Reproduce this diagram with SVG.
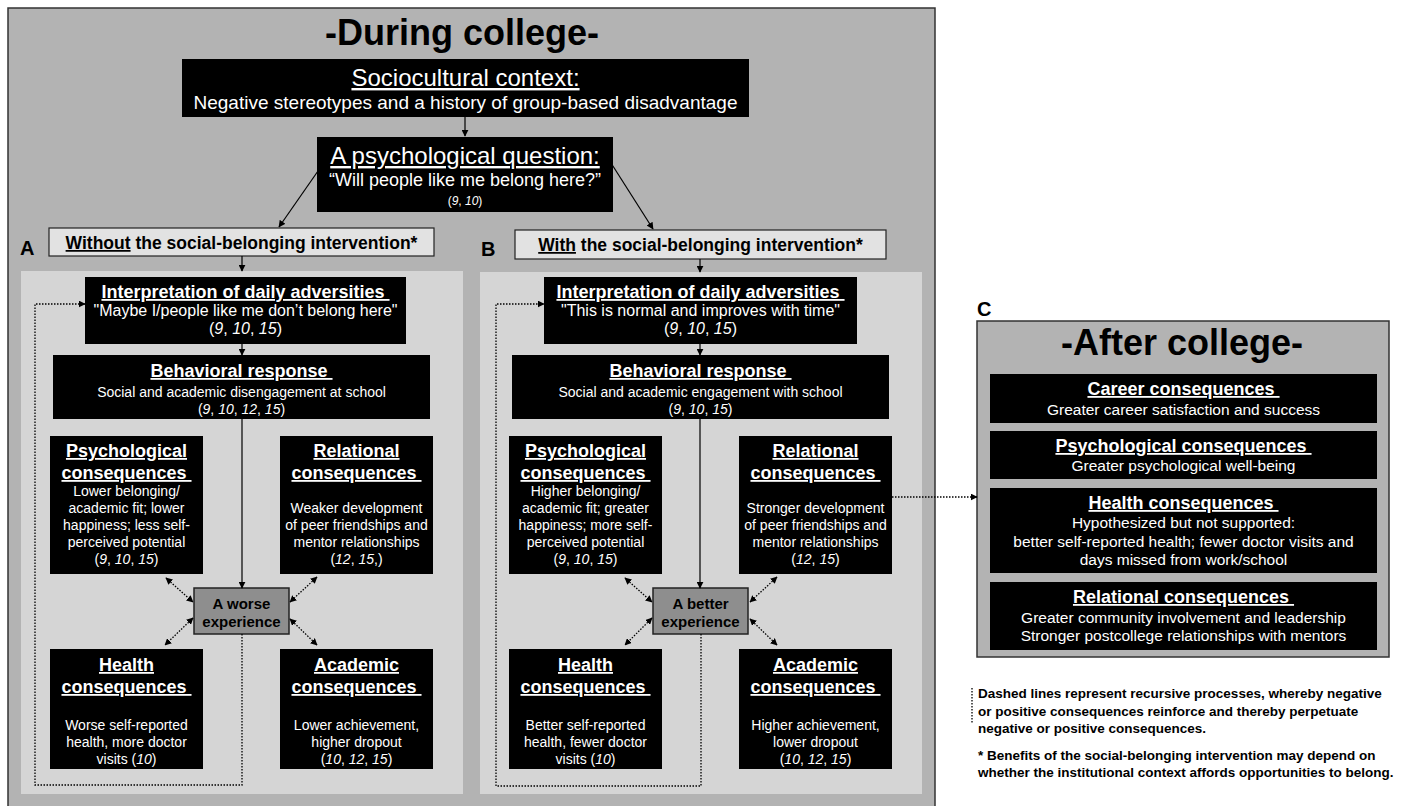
<svg xmlns="http://www.w3.org/2000/svg" width="1405" height="806" viewBox="0 0 1405 806">
<style>
text{font-family:"Liberation Sans",Arial,Helvetica,sans-serif}
.blk{fill:#000}
.h{font-weight:bold;font-size:18px;fill:#fff;text-anchor:middle;text-decoration:underline}
.q{font-size:16px;fill:#fff;text-anchor:middle}
.b{font-size:14px;fill:#fff;text-anchor:middle}
.cb{font-size:15.5px;fill:#fff;text-anchor:middle}
.i{font-style:italic}
.lbl{font-weight:bold;font-size:20px;fill:#000}
.ln{stroke:#000;stroke-width:1.2;fill:none}
.dot{stroke:#000;stroke-width:1.3;fill:none;stroke-dasharray:1.5 1.5}
.note{font-weight:bold;font-size:13.5px;fill:#000}
</style>
<defs>
<marker id="ah" viewBox="0 0 10 10" refX="9" refY="5" markerWidth="7" markerHeight="7" markerUnits="userSpaceOnUse" orient="auto-start-reverse"><path d="M0,0 L10,5 L0,10 z" fill="#000"/></marker>
</defs>
<rect width="1405" height="806" fill="#fff"/>

<g id="during-college">
<rect x="8" y="8" width="927" height="805" fill="#b3b3b3" stroke="#333" stroke-width="1.5"/>
<text x="462" y="45" font-size="36" font-weight="bold" text-anchor="middle" fill="#000">-During college-</text>
</g>

<g id="panelA-bg"><rect x="21" y="271" width="442" height="523" fill="#d5d5d5"/></g>
<g id="panelB-bg"><rect x="480" y="272" width="442" height="522" fill="#d5d5d5"/></g>

<g id="sociocultural">
<rect class="blk" x="182" y="59" width="567" height="58"/>
<text x="465.5" y="86" font-size="24" fill="#fff" text-anchor="middle" text-decoration="underline">Sociocultural context:</text>
<text x="465.5" y="109" font-size="19" fill="#fff" text-anchor="middle">Negative stereotypes and a history of group-based disadvantage</text>
</g>

<g id="psych-question">
<rect class="blk" x="317" y="137" width="296" height="75"/>
<text x="465" y="164" font-size="24" fill="#fff" text-anchor="middle" text-decoration="underline">A psychological question:</text>
<text x="465" y="186" font-size="18" fill="#fff" text-anchor="middle">“Will people like me belong here?”</text>
<text x="465" y="205" font-size="12" fill="#fff" text-anchor="middle">(<tspan class="i">9</tspan>, <tspan class="i">10</tspan>)</text>
</g>

<g id="labelA">
<text class="lbl" x="20" y="255">A</text>
<rect x="49" y="228" width="385" height="28" fill="#e2e2e2" stroke="#222" stroke-width="1.2"/>
<text x="241.5" y="249" font-size="17.5" font-weight="bold" text-anchor="middle" fill="#000"><tspan text-decoration="underline">Without</tspan> the social-belonging intervention*</text>
</g>

<g id="labelB">
<text class="lbl" x="481" y="256">B</text>
<rect x="515" y="230" width="371" height="29" fill="#e2e2e2" stroke="#222" stroke-width="1.2"/>
<text x="700.5" y="251" font-size="17.5" font-weight="bold" text-anchor="middle" fill="#000"><tspan text-decoration="underline">With</tspan> the social-belonging intervention*</text>
</g>

<g id="A-interpretation">
<rect class="blk" x="85" y="277" width="321" height="67"/>
<text class="h" x="245.5" y="298">Interpretation of daily adversities&#160;</text>
<text class="q" x="245.5" y="316">"Maybe I/people like me don’t belong here"</text>
<text class="q" x="245.5" y="334">(<tspan class="i">9</tspan>, <tspan class="i">10</tspan>, <tspan class="i">15</tspan>)</text>
</g>
<g id="A-behavioral">
<rect class="blk" x="53" y="355" width="377" height="64"/>
<text class="h" x="241.5" y="377">Behavioral response&#160;</text>
<text class="b" x="241.5" y="397">Social and academic disengagement at school</text>
<text class="b" x="241.5" y="414">(<tspan class="i">9</tspan>, <tspan class="i">10</tspan>, <tspan class="i">12</tspan>, <tspan class="i">15</tspan>)</text>
</g>
<g id="A-psychological">
<rect class="blk" x="50" y="436" width="153" height="138"/>
<text class="h" x="126.5" y="457">Psychological</text>
<text class="h" x="126.5" y="479">consequences&#160;</text>
<text class="b" x="126.5" y="496">Lower belonging/</text>
<text class="b" x="126.5" y="513">academic fit; lower</text>
<text class="b" x="126.5" y="530">happiness; less self-</text>
<text class="b" x="126.5" y="547">perceived potential</text>
<text class="b" x="126.5" y="564">(<tspan class="i">9</tspan>, <tspan class="i">10</tspan>, <tspan class="i">15</tspan>)</text>
</g>
<g id="A-relational">
<rect class="blk" x="280" y="436" width="153" height="138"/>
<text class="h" x="356.5" y="457">Relational</text>
<text class="h" x="356.5" y="479">consequences&#160;</text>
<text class="b" x="356.5" y="513">Weaker development</text>
<text class="b" x="356.5" y="530">of peer friendships and</text>
<text class="b" x="356.5" y="547">mentor relationships</text>
<text class="b" x="356.5" y="564">(<tspan class="i">12</tspan>, <tspan class="i">15</tspan>,)</text>
</g>
<g id="A-experience">
<rect x="194" y="588" width="95" height="46" fill="#8e8e8e" stroke="#222" stroke-width="1.5"/>
<text x="241.5" y="609" font-size="15" font-weight="bold" text-anchor="middle" fill="#000">A worse</text>
<text x="241.5" y="627" font-size="15" font-weight="bold" text-anchor="middle" fill="#000">experience</text>
</g>
<g id="A-health">
<rect class="blk" x="50" y="649" width="153" height="120"/>
<text class="h" x="126.5" y="671">Health</text>
<text class="h" x="126.5" y="693">consequences&#160;</text>
<text class="b" x="126.5" y="730">Worse self-reported</text>
<text class="b" x="126.5" y="747">health, more doctor</text>
<text class="b" x="126.5" y="764">visits (<tspan class="i">10</tspan>)</text>
</g>
<g id="A-academic">
<rect class="blk" x="280" y="649" width="153" height="120"/>
<text class="h" x="356.5" y="671">Academic</text>
<text class="h" x="356.5" y="693">consequences&#160;</text>
<text class="b" x="356.5" y="730">Lower achievement,</text>
<text class="b" x="356.5" y="747">higher dropout</text>
<text class="b" x="356.5" y="764">(<tspan class="i">10</tspan>, <tspan class="i">12</tspan>, <tspan class="i">15</tspan>)</text>
</g>

<g id="B-interpretation">
<rect class="blk" x="544" y="277" width="313" height="67"/>
<text class="h" x="700.5" y="298">Interpretation of daily adversities&#160;</text>
<text class="q" x="700.5" y="316">"This is normal and improves with time"</text>
<text class="q" x="700.5" y="334">(<tspan class="i">9</tspan>, <tspan class="i">10</tspan>, <tspan class="i">15</tspan>)</text>
</g>
<g id="B-behavioral">
<rect class="blk" x="512" y="355" width="377" height="64"/>
<text class="h" x="700.5" y="377">Behavioral response&#160;</text>
<text class="b" x="700.5" y="397">Social and academic engagement with school</text>
<text class="b" x="700.5" y="414">(<tspan class="i">9</tspan>, <tspan class="i">10</tspan>, <tspan class="i">15</tspan>)</text>
</g>
<g id="B-psychological">
<rect class="blk" x="509" y="436" width="153" height="138"/>
<text class="h" x="585.5" y="457">Psychological</text>
<text class="h" x="585.5" y="479">consequences&#160;</text>
<text class="b" x="585.5" y="496">Higher belonging/</text>
<text class="b" x="585.5" y="513">academic fit; greater</text>
<text class="b" x="585.5" y="530">happiness; more self-</text>
<text class="b" x="585.5" y="547">perceived potential</text>
<text class="b" x="585.5" y="564">(<tspan class="i">9</tspan>, <tspan class="i">10</tspan>, <tspan class="i">15</tspan>)</text>
</g>
<g id="B-relational">
<rect class="blk" x="739" y="436" width="153" height="138"/>
<text class="h" x="815.5" y="457">Relational</text>
<text class="h" x="815.5" y="479">consequences&#160;</text>
<text class="b" x="815.5" y="513">Stronger development</text>
<text class="b" x="815.5" y="530">of peer friendships and</text>
<text class="b" x="815.5" y="547">mentor relationships</text>
<text class="b" x="815.5" y="564">(<tspan class="i">12</tspan>, <tspan class="i">15</tspan>)</text>
</g>
<g id="B-experience">
<rect x="653" y="588" width="95" height="46" fill="#8e8e8e" stroke="#222" stroke-width="1.5"/>
<text x="700.5" y="609" font-size="15" font-weight="bold" text-anchor="middle" fill="#000">A better</text>
<text x="700.5" y="627" font-size="15" font-weight="bold" text-anchor="middle" fill="#000">experience</text>
</g>
<g id="B-health">
<rect class="blk" x="509" y="649" width="153" height="120"/>
<text class="h" x="585.5" y="671">Health</text>
<text class="h" x="585.5" y="693">consequences&#160;</text>
<text class="b" x="585.5" y="730">Better self-reported</text>
<text class="b" x="585.5" y="747">health, fewer doctor</text>
<text class="b" x="585.5" y="764">visits (<tspan class="i">10</tspan>)</text>
</g>
<g id="B-academic">
<rect class="blk" x="739" y="649" width="153" height="120"/>
<text class="h" x="815.5" y="671">Academic</text>
<text class="h" x="815.5" y="693">consequences&#160;</text>
<text class="b" x="815.5" y="730">Higher achievement,</text>
<text class="b" x="815.5" y="747">lower dropout</text>
<text class="b" x="815.5" y="764">(<tspan class="i">10</tspan>, <tspan class="i">12</tspan>, <tspan class="i">15</tspan>)</text>
</g>

<g id="after-college">
<text class="lbl" x="977" y="316">C</text>
<rect x="977" y="321" width="412" height="336" fill="#b3b3b3" stroke="#333" stroke-width="1.5"/>
<text x="1182" y="355" font-size="36" font-weight="bold" text-anchor="middle" fill="#000">-After college-</text>
</g>
<g id="C-career">
<rect class="blk" x="990" y="374" width="387" height="49"/>
<text class="h" x="1183.5" y="395">Career consequences&#160;</text>
<text class="cb" x="1183.5" y="415">Greater career satisfaction and success</text>
</g>
<g id="C-psychological">
<rect class="blk" x="990" y="431" width="387" height="48"/>
<text class="h" x="1183.5" y="452">Psychological consequences&#160;</text>
<text class="cb" x="1183.5" y="471">Greater psychological well-being</text>
</g>
<g id="C-health">
<rect class="blk" x="990" y="488" width="387" height="85"/>
<text class="h" x="1183.5" y="509">Health consequences&#160;</text>
<text class="cb" x="1183.5" y="528">Hypothesized but not supported:</text>
<text class="cb" x="1183.5" y="547">better self-reported health; fewer doctor visits and</text>
<text class="cb" x="1183.5" y="565">days missed from work/school</text>
</g>
<g id="C-relational">
<rect class="blk" x="990" y="582" width="387" height="68"/>
<text class="h" x="1183.5" y="603">Relational consequences&#160;</text>
<text class="cb" x="1183.5" y="623">Greater community involvement and leadership</text>
<text class="cb" x="1183.5" y="641">Stronger postcollege relationships with mentors</text>
</g>

<g id="notes">
<line class="dot" x1="972" y1="688" x2="972" y2="723"/>
<text class="note" x="978" y="698">Dashed lines represent recursive processes, whereby negative</text>
<text class="note" x="978" y="716">or positive consequences reinforce and thereby perpetuate</text>
<text class="note" x="978" y="733">negative or positive consequences.</text>
<text class="note" x="978" y="760">* Benefits of the social-belonging intervention may depend on</text>
<text class="note" x="978" y="777">whether the institutional context affords opportunities to belong.</text>
</g>

<g id="connectors">
<line class="ln" x1="465" y1="117" x2="465" y2="136" marker-end="url(#ah)"/>
<line class="ln" x1="318" y1="171" x2="279" y2="227" marker-end="url(#ah)"/>
<line class="ln" x1="611" y1="163" x2="653" y2="229" marker-end="url(#ah)"/>
<line class="ln" x1="242" y1="256" x2="242" y2="271" marker-end="url(#ah)"/>
<line class="ln" x1="700" y1="259" x2="700" y2="272" marker-end="url(#ah)"/>
<line class="ln" x1="242" y1="344" x2="242" y2="355" marker-end="url(#ah)"/>
<line class="ln" x1="700" y1="344" x2="700" y2="355" marker-end="url(#ah)"/>
<line class="ln" x1="242" y1="419" x2="242" y2="588" marker-end="url(#ah)"/>
<line class="ln" x1="700" y1="419" x2="700" y2="588" marker-end="url(#ah)"/>
<line class="dot" x1="166" y1="578" x2="193" y2="602" marker-start="url(#ah)" marker-end="url(#ah)"/>
<line class="dot" x1="317" y1="577" x2="290" y2="602" marker-start="url(#ah)" marker-end="url(#ah)"/>
<line class="dot" x1="193" y1="618" x2="165" y2="645" marker-start="url(#ah)" marker-end="url(#ah)"/>
<line class="dot" x1="290" y1="619" x2="317" y2="645" marker-start="url(#ah)" marker-end="url(#ah)"/>
<line class="dot" x1="625" y1="578" x2="652" y2="602" marker-start="url(#ah)" marker-end="url(#ah)"/>
<line class="dot" x1="777" y1="577" x2="750" y2="602" marker-start="url(#ah)" marker-end="url(#ah)"/>
<line class="dot" x1="652" y1="618" x2="625" y2="645" marker-start="url(#ah)" marker-end="url(#ah)"/>
<line class="dot" x1="750" y1="619" x2="777" y2="645" marker-start="url(#ah)" marker-end="url(#ah)"/>
<path class="dot" d="M242,634 V785 H35 V304 H85" marker-end="url(#ah)"/>
<path class="dot" d="M701,634 V786 H496 V304 H544" marker-end="url(#ah)"/>
<line class="dot" x1="892" y1="497" x2="977" y2="497" marker-end="url(#ah)"/>
</g>
</svg>
